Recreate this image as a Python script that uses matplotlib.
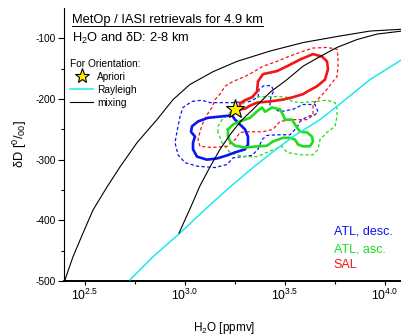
import matplotlib
matplotlib.use('Agg')
import matplotlib.pyplot as plt
from matplotlib.lines import Line2D
from matplotlib.ticker import FixedLocator, NullFormatter
import numpy as np

plt.rcParams['font.family'] = ['Liberation Sans', 'DejaVu Sans']
plt.rcParams['mathtext.fontset'] = 'custom'
plt.rcParams['mathtext.rm'] = 'Liberation Sans'
plt.rcParams['mathtext.it'] = 'Liberation Sans:italic'
plt.rcParams['mathtext.bf'] = 'Liberation Sans:bold'
plt.rcParams['axes.unicode_minus'] = False

# all x values are log10(H2O / ppmv), y values are dD in permil

# mixing lines
MIX1_LOGQ = [2.40, 2.44, 2.49, 2.54, 2.61, 2.675, 2.76, 2.86, 2.94, 3.025, 3.14, 3.26, 3.425, 3.59,
             3.76, 3.925, 4.085]
MIX1_DD = [-498, -460, -421, -383, -345, -312, -272, -234, -201, -176, -155, -138, -121, -107,
           -97, -88, -85]
MIX2_LOGQ = [2.97, 3.025, 3.075, 3.125, 3.175, 3.225, 3.28, 3.34, 3.425, 3.51, 3.59, 3.675, 3.76,
             3.86, 3.96, 4.085]
MIX2_DD = [-421, -381, -343, -312, -283, -259, -236, -217, -189, -168, -146, -130, -115,
           -102, -93, -88]

# Rayleigh
RAY_LOGQ = [2.725, 2.84, 2.975, 3.11, 3.225, 3.34, 3.44, 3.54, 3.675, 3.76, 3.925, 4.085]
RAY_DD = [-498, -460, -421, -379, -345, -313, -287, -262, -234, -212, -168, -135]

# apriori
APRIORI_LOGQ = 3.25
APRIORI_DD = -216

# ATL, descending
ATLD_IN_LOGQ = [3.235, 3.115, 3.065, 3.035, 3.03, 3.05, 3.04, 3.04, 3.06, 3.11, 3.16, 3.21, 3.25, 3.3,
                3.315, 3.315, 3.3, 3.275, 3.25, 3.235]
ATLD_IN_DD = [-227, -231, -237, -245, -254, -262, -272, -283, -295, -300, -298, -293, -288, -283,
              -275, -262, -250, -242, -234, -227]
ATLD_OUT_LOGQ = [3.035, 3.085, 3.125, 3.235, 3.325, 3.365, 3.37, 3.395, 3.43, 3.445, 3.43, 3.425, 3.425,
                 3.475, 3.54, 3.59, 3.65, 3.665, 3.65, 3.61, 3.575, 3.56, 3.525, 3.46, 3.41, 3.385, 3.365,
                 3.335, 3.29, 3.24, 3.21, 3.15, 3.065, 3.0, 2.965, 2.95, 2.96, 2.975, 2.99, 3.035]
ATLD_OUT_DD = [-204, -202, -206, -206, -204, -197, -184, -178, -178, -186, -196, -206, -212,
               -221, -217, -209, -209, -221, -226, -229, -237, -247, -259, -259, -260, -267, -283,
               -293, -295, -297, -308, -313, -311, -305, -292, -272, -254, -229, -214, -204]

# ATL, ascending
ATLA_IN_LOGQ = [3.215, 3.24, 3.275, 3.325, 3.365, 3.385, 3.4, 3.435, 3.475, 3.49, 3.5, 3.535, 3.55, 3.575,
                3.61, 3.635, 3.64, 3.625, 3.59, 3.565, 3.55, 3.525, 3.49, 3.44, 3.41, 3.365, 3.3, 3.25,
                3.225, 3.215, 3.215]
ATLA_IN_DD = [-250, -242, -237, -231, -219, -214, -221, -214, -217, -226, -234, -234, -242, -254,
              -255, -262, -270, -278, -278, -275, -267, -264, -264, -270, -277, -278, -280, -277,
              -270, -262, -250]
ATLA_OUT_LOGQ = [3.165, 3.165, 3.185, 3.225, 3.275, 3.31, 3.34, 3.39, 3.46, 3.51, 3.535, 3.575, 3.65, 3.71,
                 3.75, 3.76, 3.76, 3.75, 3.71, 3.675, 3.665, 3.64, 3.575, 3.51, 3.485, 3.41, 3.36, 3.29,
                 3.225, 3.185, 3.165]
ATLA_OUT_DD = [-255, -245, -234, -222, -212, -202, -197, -196, -196, -197, -204, -206, -204, -202,
               -206, -214, -229, -245, -255, -267, -283, -292, -292, -288, -278, -288, -295, -295,
               -288, -272, -255]

# SAL
SAL_IN_LOGQ = [3.275, 3.275, 3.3, 3.335, 3.36, 3.365, 3.39, 3.46, 3.51, 3.575, 3.64, 3.685, 3.71, 3.715,
               3.7, 3.66, 3.61, 3.59, 3.54, 3.49, 3.425, 3.36, 3.325, 3.3, 3.275]
SAL_IN_DD = [-217, -207, -202, -197, -188, -171, -159, -154, -146, -135, -126, -130, -138, -151,
             -168, -179, -188, -192, -197, -201, -204, -206, -211, -216, -217]
SAL_OUT_LOGQ = [3.075, 3.065, 3.075, 3.09, 3.11, 3.135, 3.15, 3.175, 3.2, 3.24, 3.3, 3.35, 3.39, 3.46,
                3.51, 3.575, 3.64, 3.71, 3.76, 3.765, 3.765, 3.76, 3.735, 3.71, 3.675, 3.64, 3.64, 3.615,
                3.54, 3.475, 3.44, 3.39, 3.325, 3.275, 3.25, 3.21, 3.135, 3.075]
SAL_OUT_DD = [-278, -267, -254, -239, -226, -214, -201, -192, -179, -171, -163, -154, -146, -138,
              -131, -123, -116, -115, -118, -130, -146, -163, -173, -184, -197, -209, -226, -234,
              -234, -237, -250, -254, -254, -255, -267, -278, -280, -278]

BLUE = '#0a14f5'
GREEN = '#1edc1e'
RED = '#f51414'
CYAN = '#1ee8f0'
YELLOW = '#ffee00'

fig = plt.figure(figsize=(4.02, 3.35), dpi=100)
ax = fig.add_axes([64 / 402, 1 - 281 / 335, 337 / 402, 273 / 335])

q = lambda v: 10 ** np.asarray(v)

dash = (0, (2.6, 1.9))
ax.plot(q(ATLD_OUT_LOGQ), ATLD_OUT_DD, color=BLUE, lw=0.9, ls=dash, zorder=2)
ax.plot(q(ATLA_OUT_LOGQ), ATLA_OUT_DD, color=GREEN, lw=0.9, ls=dash, zorder=2)
ax.plot(q(SAL_OUT_LOGQ), SAL_OUT_DD, color=RED, lw=0.9, ls=dash, zorder=2)
ax.plot(q(ATLD_IN_LOGQ), ATLD_IN_DD, color=BLUE, lw=1.9, zorder=3)
ax.plot(q(ATLA_IN_LOGQ), ATLA_IN_DD, color=GREEN, lw=1.9, zorder=3)
ax.plot(q(SAL_IN_LOGQ), SAL_IN_DD, color=RED, lw=1.9, zorder=3)

ax.plot(q(RAY_LOGQ), RAY_DD, color=CYAN, lw=1.1, zorder=4)
ax.plot(q(MIX1_LOGQ), MIX1_DD, color='k', lw=0.8, zorder=4)
ax.plot(q(MIX2_LOGQ), MIX2_DD, color='k', lw=0.8, zorder=4)
ax.plot([q(APRIORI_LOGQ)], [APRIORI_DD], marker='*', ms=14, color=YELLOW, mec='k', mew=0.8,
        ls='none', zorder=6)

ax.set_xscale('log')
ax.set_xlim(q(2.395), q(4.08))
ax.set_ylim(-500, -50)

major_x = [2.5, 3.0, 3.5, 4.0]
ax.xaxis.set_major_locator(FixedLocator(q(major_x)))
ax.set_xticklabels([r'$10^{%.1f}$' % v for v in major_x])
ax.xaxis.set_minor_locator(FixedLocator(q([2.75, 3.25, 3.75])))
ax.xaxis.set_minor_formatter(NullFormatter())
ax.set_yticks([-100, -200, -300, -400, -500])
ax.set_yticks([-150, -250, -350, -450], minor=True)

ax.spines['top'].set_visible(False)
ax.spines['right'].set_visible(False)
ax.spines['left'].set_linewidth(0.8)
ax.spines['bottom'].set_linewidth(1.4)
ax.tick_params(axis='y', which='major', direction='out', length=4.5, width=0.8, labelsize=7.3, pad=1.5)
ax.tick_params(axis='y', which='minor', direction='out', length=2, width=0.8)
ax.tick_params(axis='x', which='major', direction='out', length=3, width=0.8, labelsize=8.8, pad=2)
ax.tick_params(axis='x', which='minor', direction='out', length=2.5, width=0.8)

ax.set_xlabel(r'H$_2$O [ppmv]', fontsize=8.5)
ax.xaxis.set_label_coords(0.475, -0.142)
ax.set_ylabel(r'δD [$^{0}/_{00}$]', fontsize=9.3)
ax.yaxis.set_label_coords(-0.105, 0.5)

title = ax.text(0.024, 0.956, 'MetOp / IASI retrievals for 4.9 km', transform=ax.transAxes,
                fontsize=9.3, va='center', ha='left')
ax.text(0.024, 0.89, r'H$_2$O and δD: 2-8 km', transform=ax.transAxes,
        fontsize=9.3, va='center', ha='left')

handles = [
    Line2D([], [], marker='*', ls='none', color=YELLOW, mec='k', mew=0.8, ms=11),
    Line2D([], [], color=CYAN, lw=1.1),
    Line2D([], [], color='k', lw=0.8),
]
ax.legend(handles, ['Apriori', 'Rayleigh', 'mixing'], title='For Orientation:',
          loc='upper left', bbox_to_anchor=(0.018, 0.815), frameon=False, fontsize=7.3,
          title_fontsize=7.3, alignment='left', handlelength=2.3, handletextpad=0.4,
          labelspacing=0.3, borderpad=0, borderaxespad=0)

for label, color, y in [('ATL, desc.', BLUE, 0.18), ('ATL, asc.', GREEN, 0.117), ('SAL', RED, 0.059)]:
    ax.text(0.80, y, label, color=color, fontsize=9, transform=ax.transAxes, va='center')

# underline the title
fig.canvas.draw()
bb = title.get_window_extent().transformed(ax.transAxes.inverted())
ax.plot([bb.x0, bb.x1], [bb.y0, bb.y0], color='k', lw=0.7, transform=ax.transAxes, clip_on=False)

fig.savefig('out.png', dpi=100)
